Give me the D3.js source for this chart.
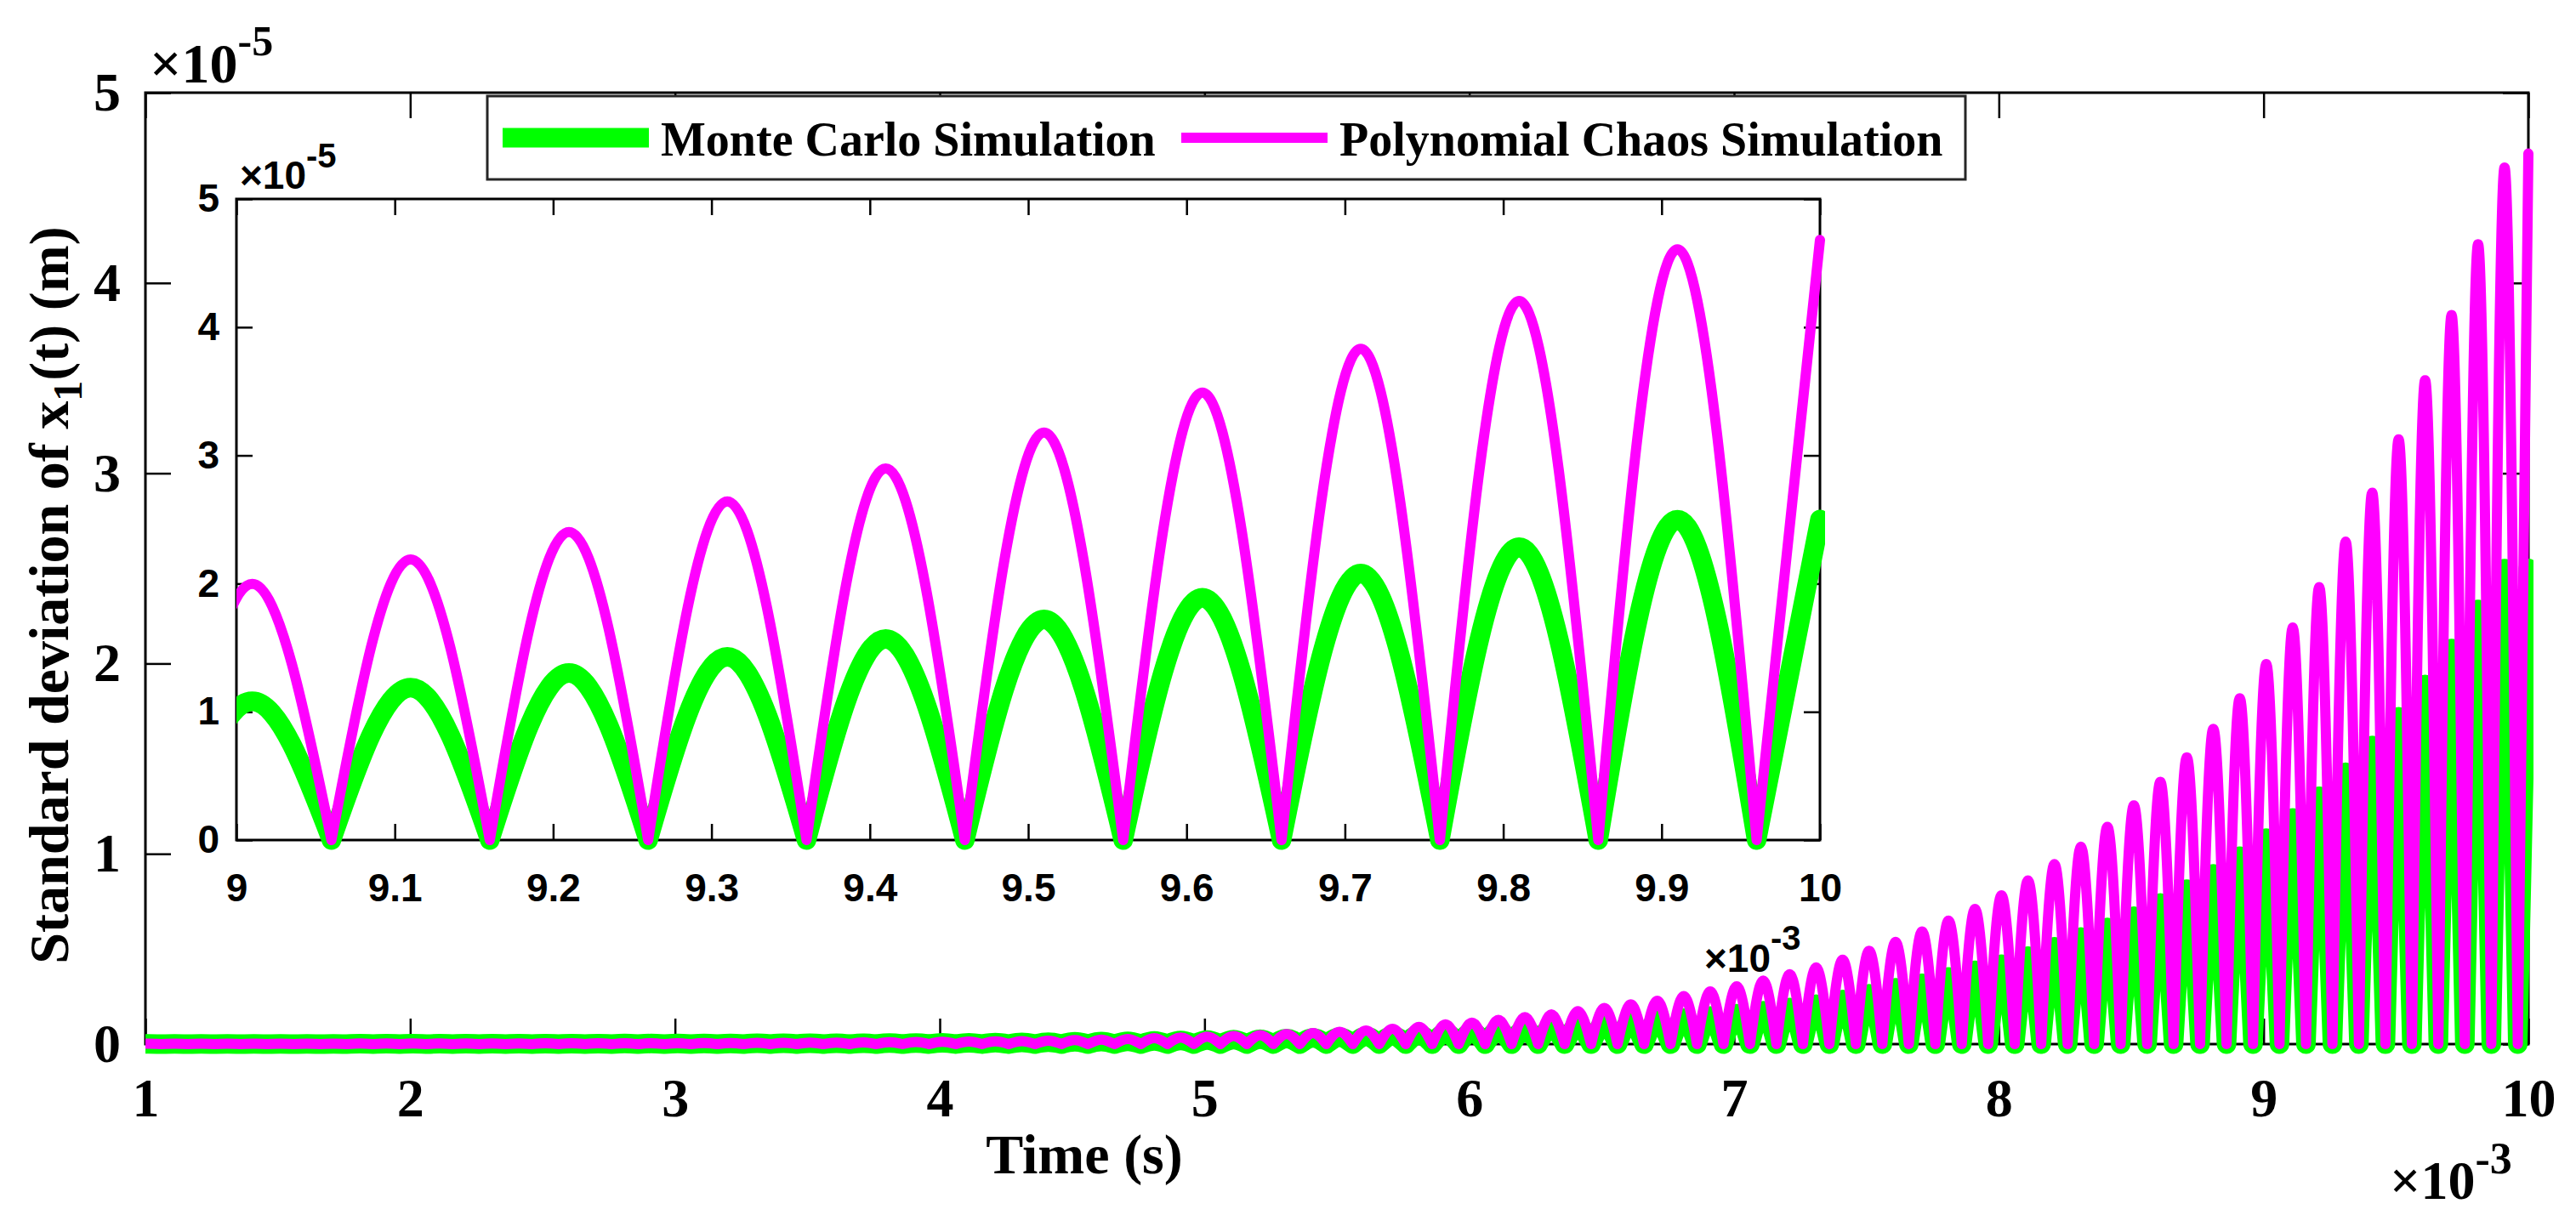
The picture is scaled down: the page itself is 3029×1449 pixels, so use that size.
<!DOCTYPE html>
<html>
<head>
<meta charset="utf-8">
<script src="https://cdn.jsdelivr.net/npm/d3@7"></script>
<style>
  body { margin: 0; background: #fff; }
  svg { display: block; }
</style>
</head>
<body>
<div id="chart"></div>
<script>
// ── Std. deviation of x1(t): Monte Carlo vs Polynomial Chaos ─────
// values are in units of 1e-5 m, time in units of 1e-3 s
// each entry is the height of one |sin|-like arch; arches peak every 0.1 starting at 1.01,
// the record stops at t = 10 on the rising side of the next arch (endValue)
const period = 0.1;
const firstPeak = 1.01;
const endTime = 10;

const mcPeaks = [
    0.001, 0.001, 0.001, 0.001, 0.001, 0.001, 0.001, 0.001, 0.002, 0.002,
    0.002, 0.002, 0.002, 0.002, 0.002,
    0.002, 0.002, 0.002, 0.003, 0.003, 0.003, 0.003, 0.003, 0.004,
    0.004, 0.004, 0.005, 0.005, 0.006, 0.006, 0.007, 0.007, 0.008,
    0.009, 0.010, 0.012, 0.013, 0.015, 0.017, 0.019,
    0.021, 0.024, 0.026, 0.029, 0.032, 0.036, 0.040, 0.044, 0.050, 0.057,
    0.062, 0.070, 0.078, 0.086, 0.095, 0.104, 0.115, 0.125, 0.136, 0.148,
    0.160, 0.175, 0.192, 0.210, 0.235, 0.265, 0.296, 0.319, 0.353, 0.388,
    0.420, 0.463, 0.512, 0.563, 0.613, 0.673, 0.742, 0.814, 0.895, 0.987,
    1.082, 1.189, 1.303, 1.429, 1.569, 1.720, 1.890, 2.079, 2.284, 2.499
];
const mcEnd = 2.50;

const pcPeaks = [
    0.002, 0.002, 0.002, 0.002, 0.002, 0.002, 0.002, 0.002, 0.003, 0.003,
    0.003, 0.003, 0.003, 0.003, 0.003,
    0.004, 0.004, 0.004, 0.005, 0.005, 0.005, 0.006, 0.006, 0.007,
    0.007, 0.008, 0.008, 0.009, 0.010, 0.011, 0.012, 0.013, 0.014,
    0.016, 0.018, 0.021, 0.024, 0.027, 0.031, 0.035,
    0.039, 0.043, 0.047, 0.053, 0.058, 0.065, 0.072, 0.080, 0.091, 0.104,
    0.113, 0.127, 0.142, 0.156, 0.173, 0.190, 0.209, 0.228, 0.253, 0.277,
    0.304, 0.334, 0.368, 0.403, 0.444, 0.490, 0.537, 0.592, 0.649, 0.710,
    0.782, 0.860, 0.946, 1.038, 1.142, 1.254, 1.378, 1.507, 1.657, 1.818,
    1.997, 2.189, 2.402, 2.641, 2.898, 3.178, 3.489, 3.831, 4.204, 4.607
];
const pcEnd = 4.68;

const mainXTicks  = [1, 2, 3, 4, 5, 6, 7, 8, 9, 10];
const mainYTicks  = [0, 1, 2, 3, 4, 5];
const insetXTicks = [9, 9.1, 9.2, 9.3, 9.4, 9.5, 9.6, 9.7, 9.8, 9.9, 10];
const insetYTicks = [0, 1, 2, 3, 4, 5];

const series = [
    { label: "Monte Carlo Simulation",      peaks: mcPeaks, end: mcEnd, color: "#00ff00", width: 23 },
    { label: "Polynomial Chaos Simulation", peaks: pcPeaks, end: pcEnd, color: "#ff00ff", width: 12 }
];

const W = 3029, H = 1449;
const serif = "'Liberation Serif','Times New Roman',serif";
const sans  = "'Liberation Sans',Arial,sans-serif";

const svg = d3.select("#chart").append("svg")
    .attr("width", W).attr("height", H)
    .style("background", "#fff");

const defs = svg.append("defs");

// one sub-path per arch so the zeros stay sharp cusps
function archPath(xs, ys, s, keep) {
    const line = d3.line()
        .x(d => xs(d[0])).y(d => ys(d[1]))
        .curve(d3.curveMonotoneX);
    const parts = s.peaks.map((v, i) => {
        const t = firstPeak + i * period;
        if (!keep(t)) return "";
        return line([[t - period / 2, 0], [t, v], [t + period / 2, 0]]);
    });
    const lastZero = firstPeak + (s.peaks.length - 1) * period + period / 2;
    parts.push(line([[lastZero, 0], [endTime, s.end]]));
    return parts.join("");
}

function drawPanel(opts) {
    const { xs, ys, xTicks, yTicks, tick, font, fontSize, xPad, yPad, xFmt, fill, id, keep } = opts;
    const [x0, x1] = xs.range();
    const [y0, y1] = ys.range();
    const g = svg.append("g");

    g.append("rect")
        .attr("x", x0).attr("y", y1)
        .attr("width", x1 - x0).attr("height", y0 - y1)
        .attr("fill", fill).attr("stroke", "#000").attr("stroke-width", 3);

    const styleAxis = sel => {
        sel.select(".domain").remove();
        sel.selectAll("line").attr("stroke", "#000").attr("stroke-width", 2.5);
        sel.selectAll("text")
            .style("font-family", font).style("font-weight", "bold")
            .style("font-size", fontSize + "px").attr("fill", "#000");
    };

    g.append("g").attr("transform", `translate(0,${y0})`)
        .call(d3.axisBottom(xs).tickValues(xTicks).tickSizeInner(-tick).tickSizeOuter(0)
            .tickPadding(xPad).tickFormat(xFmt))
        .call(styleAxis);
    g.append("g").attr("transform", `translate(0,${y1})`)
        .call(d3.axisTop(xs).tickValues(xTicks).tickSizeInner(-tick).tickSizeOuter(0).tickFormat(""))
        .call(styleAxis);
    g.append("g").attr("transform", `translate(${x0},0)`)
        .call(d3.axisLeft(ys).tickValues(yTicks).tickSizeInner(-tick).tickSizeOuter(0)
            .tickPadding(yPad).tickFormat(d3.format("d")))
        .call(styleAxis);
    g.append("g").attr("transform", `translate(${x1},0)`)
        .call(d3.axisRight(ys).tickValues(yTicks).tickSizeInner(-tick).tickSizeOuter(0).tickFormat(""))
        .call(styleAxis);

    // curves, clipped only left/right (line ends may overhang the right frame a little)
    defs.append("clipPath").attr("id", id)
        .append("rect").attr("x", x0).attr("y", 0)
        .attr("width", x1 - x0 + 6).attr("height", H);

    const cg = g.append("g").attr("clip-path", `url(#${id})`);
    series.forEach(s => {
        cg.append("path")
            .attr("d", archPath(xs, ys, s, keep))
            .attr("fill", "none")
            .attr("stroke", s.color)
            .attr("stroke-width", s.width)
            .attr("stroke-linecap", "round")
            .attr("stroke-linejoin", "round");
    });
    return g;
}

function sciLabel(xPos, yPos, font, size, supSize, supShift, exp) {
    const t = svg.append("text")
        .attr("x", xPos).attr("y", yPos)
        .style("font-family", font).style("font-weight", "bold")
        .style("font-size", size + "px").attr("fill", "#000");
    t.append("tspan").text("×10");
    t.append("tspan").attr("dy", -supShift).style("font-size", supSize + "px").text(exp);
}

// ── main axes ──
const x = d3.scaleLinear().domain([1, 10]).range([171, 2973]);
const y = d3.scaleLinear().domain([0, 5]).range([1228, 109]);

drawPanel({
    xs: x, ys: y, xTicks: mainXTicks, yTicks: mainYTicks,
    tick: 30, font: serif, fontSize: 64, xPad: 40, yPad: 29,
    xFmt: d3.format("d"), fill: "none", id: "clip-main", keep: () => true
});

svg.append("text")
    .attr("x", 1275).attr("y", 1380)
    .attr("text-anchor", "middle")
    .style("font-family", serif).style("font-weight", "bold").style("font-size", "66px")
    .text("Time (s)");

const yl = svg.append("text")
    .attr("transform", "translate(80,700) rotate(-90)")
    .attr("text-anchor", "middle")
    .style("font-family", serif).style("font-weight", "bold").style("font-size", "66px");
yl.append("tspan").text("Standard deviation of x");
yl.append("tspan").attr("dy", 16).style("font-size", "48px").text("1");
yl.append("tspan").attr("dy", -16).text("(t) (m)");

sciLabel(176, 97, serif, 66, 50, 32, "-5");
sciLabel(2810, 1410, serif, 64, 52, 30, "-3");

// ── inset ──
const xi = d3.scaleLinear().domain([9, 10]).range([278, 2140]);
const yi = d3.scaleLinear().domain([0, 5]).range([988, 234]);

drawPanel({
    xs: xi, ys: yi, xTicks: insetXTicks, yTicks: insetYTicks,
    tick: 19, font: sans, fontSize: 46, xPad: 39, yPad: 20,
    xFmt: d => String(+d.toFixed(1)), fill: "#fff", id: "clip-inset",
    keep: t => t > 8.9 && t < 10.1
});

sciLabel(282, 222, sans, 46, 40, 25, "-5");
sciLabel(2004, 1143, sans, 46, 40, 26, "-3");

// ── legend ──
const legend = svg.append("g");
legend.append("rect")
    .attr("x", 573).attr("y", 113).attr("width", 1738).attr("height", 98)
    .attr("fill", "#fff").attr("stroke", "#262626").attr("stroke-width", 3);

const legendX = [591, 1389];
series.forEach((s, i) => {
    legend.append("line")
        .attr("x1", legendX[i]).attr("x2", legendX[i] + 172)
        .attr("y1", 162).attr("y2", 162)
        .attr("stroke", s.color).attr("stroke-width", s.width);
    legend.append("text")
        .attr("x", legendX[i] + 186).attr("y", 183)
        .style("font-family", serif).style("font-weight", "bold").style("font-size", "56px")
        .text(s.label);
});
</script>
</body>
</html>
